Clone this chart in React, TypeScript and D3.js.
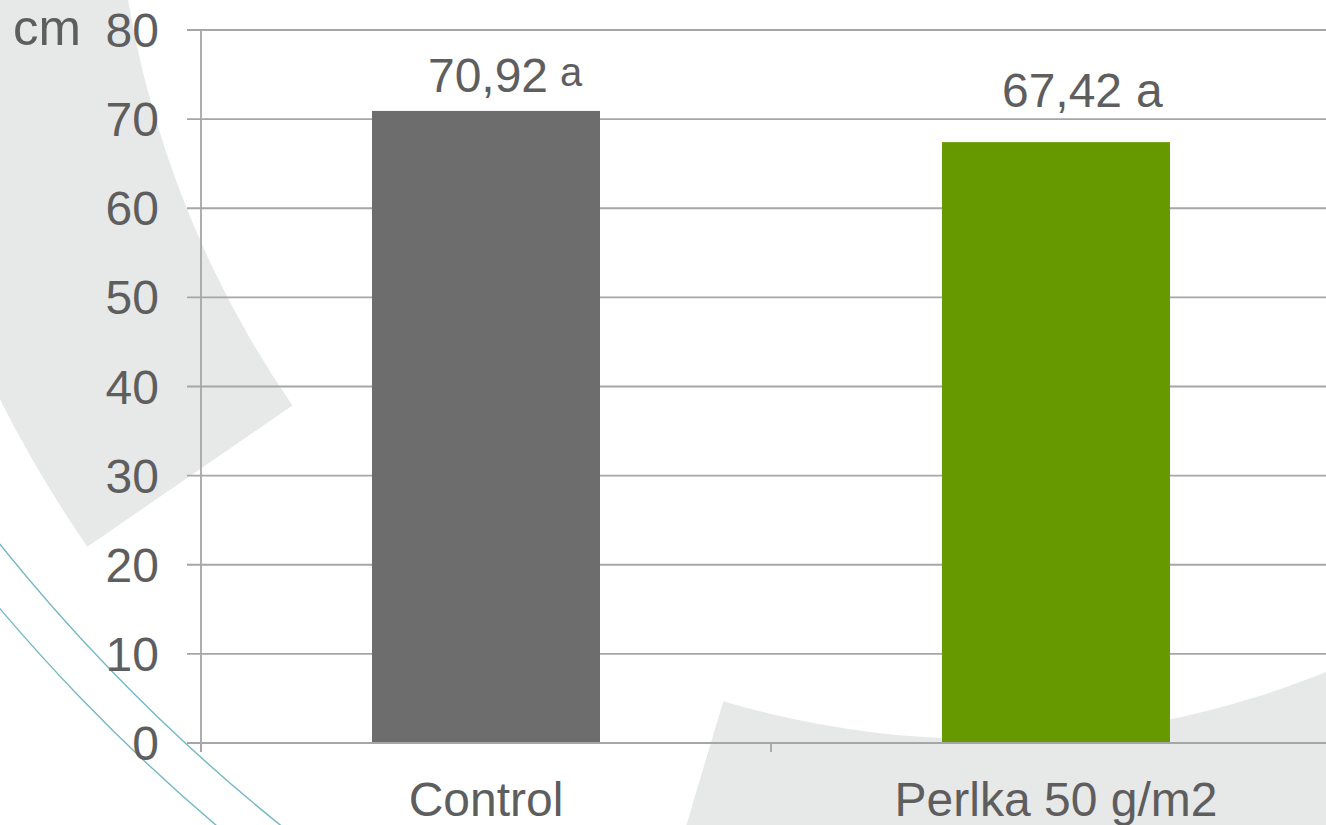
import React from "react";
import * as d3 from "d3";

const categories = ["Control", "Perlka 50 g/m2"];
const values = [70.92, 67.42];
const letters = ["a", "a"];
const yTicks = [0, 10, 20, 30, 40, 50, 60, 70, 80];
const barColors = ["#6d6d6d", "#669900"];
const unitLabel = "cm";

// layout for the value labels (manually placed text boxes in the original)
const labelLayout = [
  { dx: 2, dy: -19, letterSize: 40, letterDy: -6, gap: 12 },
  { dx: 6, dy: -35, letterSize: 48, letterDy: 0, gap: 14 },
];

const W = 1326;
const H = 825;
const FONT = "'Liberation Sans', Arial, sans-serif";
const TEXT = "#5e5e5e";
const GRID = "#a6a6a6";
const BG = "#e7e8e8";
const TEAL = "#74b8c6";

export default function App() {
  const x = d3
    .scaleBand<string>()
    .domain(categories)
    .range([201, 1341])
    .paddingInner(0.6)
    .paddingOuter(0.3);
  const y = d3.scaleLinear().domain([0, 80]).range([743, 30]);
  const left = 201;
  const step = x.step();
  const bandStarts = d3.range(categories.length + 1).map((i) => left + i * step);

  const ring1 = d3.arc()({
    innerRadius: 1011,
    outerRadius: 1260,
    startAngle: -2.174,
    endAngle: -0.9,
  } as any) as string;
  const ring2 = d3.arc()({
    innerRadius: 910,
    outerRadius: 1500,
    startAngle: 1.7,
    endAngle: 3.431,
  } as any) as string;

  const tealPath = (r: number) => {
    const cx = 1417, cy = -590, a0 = 2.1, a1 = 2.65;
    const p = d3.path();
    p.moveTo(cx + r * Math.cos(a0), cy + r * Math.sin(a0));
    p.arc(cx, cy, r, a0, a1);
    return p.toString();
  };

  const fmt = (v: number) => v.toFixed(2).replace(".", ",");
  const numW = (s: string, size: number) => s.length * 0.556 * size - (s.includes(",") ? 0.278 * size : 0);

  return (
    <svg
      width={W}
      height={H}
      style={{ position: "absolute", left: 0, top: 0, display: "block", background: "#fff" }}
      fontFamily={FONT}
    >
      <g>
        <path d={ring1} transform="translate(1125,-168)" fill={BG} />
        <path d={ring2} transform="translate(983,-171)" fill={BG} />
        <path d={tealPath(1815)} fill="none" stroke={TEAL} strokeWidth={1.4} />
        <path d={tealPath(1856)} fill="none" stroke={TEAL} strokeWidth={1.4} />
      </g>

      {/* gridlines */}
      {yTicks.map((t) => (
        <line key={t} x1={187} x2={1341} y1={y(t)} y2={y(t)} stroke={GRID} strokeWidth={1.8} />
      ))}

      {/* bars */}
      {categories.map((c, i) => (
        <rect
          key={c}
          x={x(c)!}
          y={y(values[i])}
          width={x.bandwidth()}
          height={y(0) - y(values[i])}
          fill={barColors[i]}
        />
      ))}

      {/* axes */}
      <line x1={left} x2={left} y1={y(80)} y2={752} stroke={GRID} strokeWidth={1.8} />
      <line x1={187} x2={1341} y1={y(0)} y2={y(0)} stroke={GRID} strokeWidth={1.8} />
      {bandStarts.map((bx, i) => (
        <line key={i} x1={bx} x2={bx} y1={y(0)} y2={752} stroke={GRID} strokeWidth={1.8} />
      ))}

      {/* y tick labels */}
      {yTicks.map((t) => (
        <text key={t} x={159} y={y(t) + 17} textAnchor="end" fontSize={48} fill={TEXT}>
          {t}
        </text>
      ))}
      <text x={13} y={y(80) + 15} fontSize={50} fill={TEXT} textLength={68} lengthAdjust="spacingAndGlyphs">
        {unitLabel}
      </text>

      {/* category labels */}
      {categories.map((c) => (
        <text key={c} x={x(c)! + x.bandwidth() / 2} y={816} textAnchor="middle" fontSize={48} fill={TEXT}>
          {c}
        </text>
      ))}

      {/* value labels */}
      {categories.map((c, i) => {
        const L = labelLayout[i];
        const cx = x(c)! + x.bandwidth() / 2 + L.dx;
        const by = y(values[i]) + L.dy;
        const s = fmt(values[i]);
        const w = numW(s, 48);
        return (
          <g key={c}>
            <text x={cx} y={by} textAnchor="middle" fontSize={48} fill={TEXT}>
              {s}
            </text>
            <text x={cx + w / 2 + L.gap} y={by + L.letterDy} fontSize={L.letterSize} fill={TEXT}>
              {letters[i]}
            </text>
          </g>
        );
      })}
    </svg>
  );
}
